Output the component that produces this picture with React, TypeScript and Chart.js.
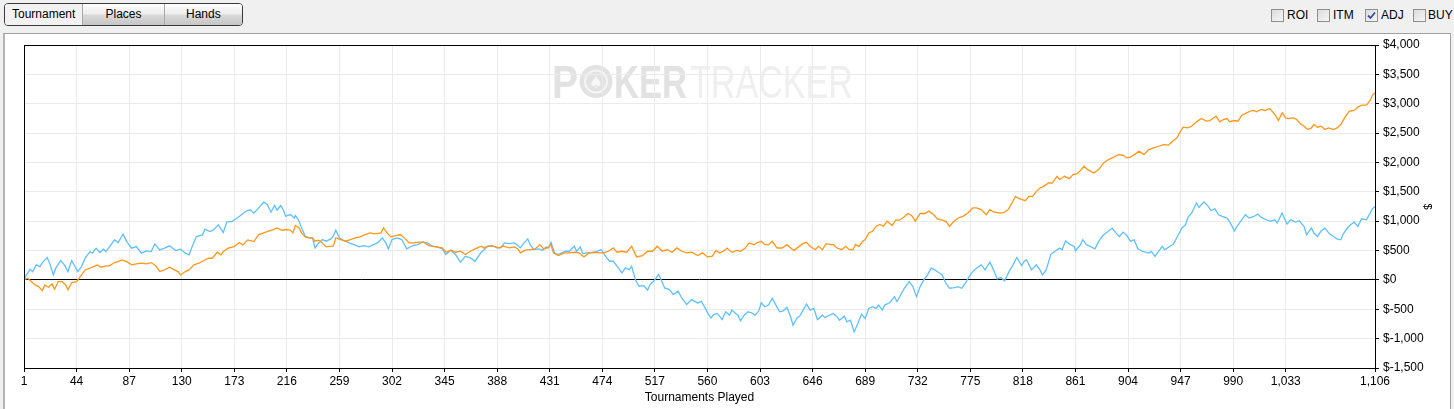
import React, { useRef, useEffect } from 'react';
import Chart from 'chart.js/auto';

// [tournament, dollars]
const adjustedWon: [number, number][] = [
  [1, 0], [4, 28], [7, -28], [10, -85], [13, -114], [16, -182], [18, -85], [21, -125], [24, -68], [26, -159],
  [29, -28], [32, -28], [35, -85], [37, -170], [40, -45], [44, -28], [46, 28], [51, 170], [55, 199], [58, 227],
  [61, 256], [64, 216], [68, 239], [71, 239], [75, 295], [78, 312], [81, 341], [85, 312], [89, 256], [93, 273],
  [97, 284], [101, 273], [105, 295], [109, 239], [112, 142], [116, 170], [120, 216], [124, 170], [127, 142], [129, 85],
  [133, 142], [136, 170], [140, 256], [144, 284], [148, 330], [152, 369], [155, 369], [159, 471], [162, 426], [164, 483],
  [168, 540], [173, 568], [177, 636], [180, 596], [184, 682], [189, 653], [193, 772], [197, 801], [201, 829], [205, 858],
  [208, 886], [212, 846], [216, 858], [219, 846], [221, 801], [223, 926], [226, 886], [228, 801], [231, 733], [234, 716],
  [237, 716], [239, 659], [242, 676], [245, 630], [248, 562], [252, 574], [254, 574], [256, 716], [260, 687], [264, 659],
  [268, 687], [272, 716], [276, 733], [280, 772], [284, 801], [288, 784], [293, 801], [295, 886], [298, 801], [301, 733],
  [305, 755], [309, 772], [312, 716], [316, 630], [320, 630], [324, 642], [328, 642], [332, 585], [338, 562], [343, 545],
  [346, 471], [350, 506], [354, 471], [358, 489], [362, 432], [366, 489], [370, 528], [375, 574], [377, 545], [381, 574],
  [385, 574], [389, 545], [393, 574], [398, 545], [402, 562], [405, 528], [407, 460], [411, 506], [415, 517], [419, 528],
  [423, 602], [426, 528], [429, 545], [432, 602], [434, 460], [438, 415], [443, 460], [447, 460], [451, 471], [455, 460],
  [459, 392], [463, 460], [467, 471], [471, 460], [475, 460], [479, 488], [483, 545], [486, 471], [490, 488], [494, 471],
  [498, 574], [502, 392], [507, 415], [511, 488], [515, 488], [519, 574], [523, 488], [527, 517], [531, 471], [535, 545],
  [539, 488], [543, 460], [547, 471], [552, 415], [556, 460], [560, 392], [564, 404], [567, 503], [570, 457], [574, 503],
  [576, 543], [580, 469], [584, 503], [587, 486], [591, 543], [594, 629], [598, 600], [600, 629], [604, 657], [607, 600],
  [610, 600], [613, 657], [617, 543], [621, 543], [625, 600], [629, 526], [631, 503], [635, 571], [638, 617], [641, 640],
  [644, 571], [648, 514], [651, 571], [654, 514], [657, 617], [661, 600], [663, 600], [666, 543], [670, 514], [673, 571],
  [676, 514], [679, 514], [681, 600], [684, 571], [687, 657], [689, 686], [692, 800], [695, 829], [698, 914], [701, 943],
  [704, 914], [707, 1000], [711, 926], [714, 1017], [717, 1017], [721, 1074], [724, 1131], [727, 1097], [730, 1000], [734, 1131],
  [738, 1131], [741, 1171], [745, 1114], [748, 1040], [752, 1017], [755, 997], [758, 912], [761, 986], [765, 1054], [769, 1083],
  [773, 1140], [777, 1225], [780, 1225], [784, 1197], [788, 1111], [791, 1197], [794, 1157], [798, 1140], [802, 1140], [806, 1197],
  [809, 1310], [812, 1423], [815, 1383], [820, 1349], [823, 1423], [826, 1423], [829, 1508], [832, 1565], [835, 1593], [839, 1650],
  [842, 1650], [846, 1764], [848, 1707], [852, 1764], [856, 1724], [859, 1793], [862, 1804], [865, 1861], [868, 1935], [871, 1878],
  [876, 1821], [880, 1878], [884, 1992], [888, 2049], [892, 2089], [896, 2134], [900, 2123], [903, 2077], [906, 2089], [910, 2146],
  [913, 2191], [917, 2134], [921, 2220], [925, 2248], [929, 2276], [933, 2305], [937, 2294], [940, 2351], [944, 2418], [947, 2532],
  [949, 2600], [953, 2589], [956, 2617], [960, 2691], [964, 2748], [968, 2703], [971, 2714], [974, 2760], [976, 2788], [979, 2691],
  [982, 2731], [985, 2748], [987, 2691], [991, 2714], [994, 2703], [997, 2805], [1001, 2845], [1004, 2873], [1007, 2885], [1009, 2862],
  [1013, 2902], [1016, 2885], [1020, 2919], [1023, 2845], [1025, 2788], [1027, 2714], [1030, 2845], [1033, 2760], [1035, 2748], [1039, 2760],
  [1042, 2731], [1045, 2657], [1048, 2617], [1051, 2560], [1054, 2589], [1056, 2646], [1059, 2600], [1062, 2617], [1065, 2560], [1068, 2589],
  [1072, 2560], [1075, 2589], [1078, 2646], [1082, 2788], [1085, 2873], [1089, 2885], [1092, 2942], [1095, 2976], [1099, 2976], [1102, 3055],
  [1104, 3147], [1106, 3186],
];

const netWon: [number, number][] = [
  [1, 0], [3, 85], [6, 180], [8, 140], [11, 255], [14, 227], [16, 295], [20, 380], [22, 284], [25, 85],
  [27, 200], [31, 330], [34, 255], [37, 142], [40, 330], [42, 255], [45, 142], [48, 227], [51, 370], [55, 483],
  [57, 455], [60, 540], [63, 466], [66, 523], [68, 483], [71, 568], [75, 682], [78, 636], [82, 778], [85, 653],
  [89, 540], [93, 568], [97, 455], [101, 494], [105, 483], [108, 613], [112, 511], [116, 540], [120, 580], [125, 500],
  [129, 523], [133, 455], [136, 426], [138, 540], [142, 738], [147, 767], [149, 863], [153, 824], [156, 852], [160, 937],
  [164, 807], [167, 994], [171, 994], [175, 1051], [179, 1108], [182, 1165], [186, 1193], [189, 1136], [193, 1227], [197, 1323],
  [200, 1284], [203, 1153], [206, 1267], [208, 1187], [211, 1267], [213, 1198], [215, 1085], [219, 1113], [222, 1056], [223, 1096],
  [226, 1000], [228, 886], [231, 744], [234, 716], [237, 716], [239, 545], [242, 630], [245, 687], [248, 659], [252, 699],
  [254, 744], [256, 846], [259, 716], [262, 676], [267, 630], [271, 602], [275, 562], [279, 585], [283, 562], [287, 602],
  [291, 642], [294, 716], [297, 630], [299, 528], [302, 687], [306, 716], [310, 687], [314, 528], [319, 585], [323, 602],
  [327, 642], [331, 630], [335, 574], [339, 562], [343, 528], [346, 432], [350, 506], [354, 432], [358, 301], [362, 403],
  [366, 375], [370, 318], [375, 471], [377, 506], [380, 574], [384, 585], [388, 545], [391, 545], [394, 630], [398, 619],
  [402, 630], [404, 602], [407, 545], [410, 630], [413, 699], [415, 602], [418, 517], [422, 528], [425, 506], [428, 562],
  [430, 545], [432, 642], [435, 460], [438, 432], [441, 460], [444, 488], [447, 488], [451, 574], [453, 488], [456, 562],
  [458, 449], [461, 460], [464, 460], [468, 471], [471, 500], [473, 517], [474, 488], [477, 392], [480, 318], [483, 318],
  [486, 233], [490, 119], [493, 204], [496, 176], [498, 233], [501, 6], [504, -108], [508, -97], [511, -176], [513, -80],
  [516, -23], [520, 91], [522, 6], [525, -136], [529, -165], [532, -250], [536, -193], [539, -307], [543, -420], [547, -335],
  [552, -392], [555, -364], [558, -477], [561, -591], [563, -648], [565, -591], [568, -571], [572, -674], [575, -543], [578, -600],
  [580, -514], [583, -571], [585, -600], [587, -697], [590, -600], [593, -543], [596, -560], [599, -600], [602, -526], [604, -389],
  [607, -457], [610, -429], [613, -314], [616, -429], [619, -543], [622, -526], [625, -469], [628, -627], [630, -771], [633, -657],
  [636, -600], [639, -486], [641, -411], [644, -514], [647, -486], [650, -674], [654, -600], [656, -640], [660, -600], [663, -571],
  [666, -627], [668, -686], [672, -617], [674, -714], [677, -686], [680, -886], [683, -743], [686, -583], [689, -657], [692, -486],
  [695, -457], [698, -486], [700, -429], [703, -514], [705, -429], [709, -389], [713, -286], [715, -371], [718, -257], [721, -143],
  [725, -29], [728, -114], [731, -286], [734, -114], [737, 0], [740, 86], [743, 200], [746, 171], [749, 126], [752, 85],
  [755, -57], [758, -142], [762, -131], [765, -114], [768, -142], [771, -57], [774, 57], [777, 142], [780, 199], [784, 256],
  [787, 171], [791, 302], [794, 171], [797, 17], [800, 40], [803, -17], [807, 154], [810, 256], [813, 381], [817, 245],
  [819, 313], [821, 342], [825, 171], [829, 256], [832, 171], [834, 85], [837, 171], [841, 439], [844, 484], [848, 541],
  [850, 513], [853, 667], [856, 610], [860, 570], [861, 496], [865, 598], [867, 684], [870, 598], [873, 570], [877, 530],
  [880, 655], [884, 769], [887, 814], [891, 883], [895, 780], [897, 740], [900, 814], [903, 758], [906, 655], [909, 684],
  [912, 530], [916, 484], [921, 456], [923, 484], [926, 399], [929, 484], [932, 570], [934, 513], [938, 570], [941, 609],
  [944, 723], [948, 882], [951, 939], [953, 1064], [956, 1138], [960, 1309], [962, 1235], [966, 1326], [969, 1269], [972, 1178],
  [975, 1212], [978, 1110], [981, 1081], [985, 1053], [987, 996], [991, 836], [994, 939], [997, 1024], [1000, 1110], [1003, 1053],
  [1007, 1081], [1010, 1121], [1013, 1064], [1017, 1024], [1020, 996], [1024, 1024], [1026, 967], [1030, 1138], [1034, 950], [1037, 1024],
  [1041, 984], [1044, 1007], [1048, 910], [1050, 768], [1054, 882], [1056, 797], [1059, 740], [1062, 836], [1065, 882], [1069, 780],
  [1072, 740], [1075, 700], [1078, 683], [1080, 780], [1083, 871], [1086, 939], [1089, 984], [1092, 910], [1095, 1041], [1099, 1024],
  [1102, 1138], [1104, 1212], [1106, 1252],
];

const xTickValues = [
  1, 44, 87, 130, 173, 216, 259, 302, 345, 388, 431, 474, 517, 560, 603, 646, 689,
  732, 775, 818, 861, 904, 947, 990, 1033, 1106,
];
const yMin = -1500;
const yMax = 4000;
const yStep = 500;

const viewTabs = ['Tournament', 'Places', 'Hands'];
const optionBoxes = [
  { label: 'ROI', checked: false, boxX: 1271, textX: 1287 },
  { label: 'ITM', checked: false, boxX: 1317, textX: 1333 },
  { label: 'ADJ', checked: true, boxX: 1365, textX: 1381 },
  { label: 'BUY', checked: false, boxX: 1413, textX: 1428 },
];

const FONT = '"Liberation Sans", Arial, sans-serif';
const tickFont = { family: FONT, size: 12 };

// squeeze a word into a given width
const fitText = (ctx: CanvasRenderingContext2D, text: string, x: number, y: number, w: number) => {
  const m = ctx.measureText(text).width;
  ctx.save();
  ctx.translate(x, y);
  ctx.scale(w / m, 1);
  ctx.fillText(text, 0, 0);
  ctx.restore();
};

const watermark = {
  id: 'watermark',
  beforeDraw(chart: Chart) {
    const ctx = chart.ctx;
    ctx.save();
    ctx.textBaseline = 'alphabetic';
    ctx.fillStyle = '#e2e2e2';
    ctx.font = `bold 46px ${FONT}`;
    fitText(ctx, 'P', 552, 65, 26);
    // the chip in place of the O
    ctx.beginPath();
    ctx.arc(596, 48.5, 16.5, 0, Math.PI * 2);
    ctx.fill();
    ctx.strokeStyle = '#f4f4f4';
    ctx.lineWidth = 2;
    ctx.beginPath();
    ctx.arc(596, 48.5, 11, 0, Math.PI * 2);
    ctx.stroke();
    ctx.fillStyle = '#f6f6f6';
    ctx.font = `16px "DejaVu Sans"`;
    ctx.textAlign = 'center';
    ctx.fillText('\u2660', 596, 55);
    ctx.textAlign = 'left';
    ctx.fillStyle = '#e2e2e2';
    ctx.font = `bold 46px ${FONT}`;
    fitText(ctx, 'KER', 614, 65, 73);
    ctx.fillStyle = '#efefef';
    ctx.font = `46px ${FONT}`;
    fitText(ctx, 'TRACKER', 690, 65, 163);
    ctx.restore();
  },
};

const plotFrame = {
  id: 'plotFrame',
  afterDraw(chart: Chart) {
    const { ctx, chartArea } = chart;
    const l = Math.round(chartArea.left) + 0.5;
    const t = Math.round(chartArea.top) + 0.5;
    const r = Math.round(chartArea.right) + 0.5;
    const b = Math.round(chartArea.bottom) + 0.5;
    ctx.save();
    ctx.strokeStyle = '#000';
    ctx.lineWidth = 1;
    ctx.strokeRect(l, t, r - l, b - t);
    ctx.restore();
  },
};

const GraphCanvas = () => {
  const chartRef = useRef<HTMLCanvasElement>(null);
  const chartInstance = useRef<Chart | null>(null);

  useEffect(() => {
    const ctx = chartRef.current?.getContext('2d');
    if (!ctx) return;
    if (chartInstance.current) chartInstance.current.destroy();

    chartInstance.current = new Chart(ctx, {
      type: 'line',
      data: {
        datasets: [
          {
            label: 'Adjusted',
            data: adjustedWon.map(([x, y]) => ({ x, y })),
            borderColor: '#ff9617',
            borderWidth: 1.3,
            pointRadius: 0,
            tension: 0,
            fill: false,
          },
          {
            label: 'Net Won',
            data: netWon.map(([x, y]) => ({ x, y })),
            borderColor: '#5fc0ff',
            borderWidth: 1.3,
            pointRadius: 0,
            tension: 0,
            fill: false,
          },
        ],
      },
      options: {
        animation: false,
        responsive: true,
        maintainAspectRatio: false,
        events: [],
        layout: { padding: { left: 24, top: 12, right: 0, bottom: 0 } },
        plugins: {
          legend: { display: false },
          tooltip: { enabled: false },
        },
        scales: {
          x: {
            type: 'linear',
            min: 1,
            max: 1106,
            afterBuildTicks: (scale: any) => {
              scale.ticks = xTickValues.map((value) => ({ value }));
            },
            afterFit: (scale: any) => {
              scale.height = 41;
            },
            ticks: {
              autoSkip: false,
              maxRotation: 0,
              color: '#000',
              font: tickFont,
              padding: 2,
              callback: (v: any) => Number(v).toLocaleString('en-US'),
            },
            grid: { color: '#ebebeb', tickColor: '#000', tickLength: 4 },
            border: { color: '#000' },
            title: {
              display: true,
              text: 'Tournaments Played',
              color: '#000',
              font: tickFont,
              padding: { top: 0, bottom: 4 },
            },
          },
          y: {
            position: 'right',
            min: yMin,
            max: yMax,
            afterFit: (scale: any) => {
              scale.width = 79;
            },
            ticks: {
              stepSize: yStep,
              color: '#000',
              font: tickFont,
              padding: 4,
              callback: (v: any) => '$' + Number(v).toLocaleString('en-US'),
            },
            grid: {
              color: (c: any) => (c.tick && c.tick.value === 0 ? '#000' : '#ebebeb'),
              tickColor: '#000',
              tickLength: 4,
            },
            border: { color: '#000' },
            title: {
              display: true,
              text: '$',
              color: '#000',
              font: { family: FONT, size: 11 },
              padding: { top: 20, bottom: 0 },
            },
          },
        },
      },
      plugins: [watermark, plotFrame],
    });

    return () => {
      if (chartInstance.current) {
        chartInstance.current.destroy();
        chartInstance.current = null;
      }
    };
  }, []);

  return <canvas ref={chartRef}></canvas>;
};

const CheckMark = () => (
  <svg width="11" height="11" viewBox="0 0 11 11" style={{ position: 'absolute', left: 0, top: 0 }}>
    <path d="M2 5.5 L4.5 8 L9 2.5" stroke="#3d4d9c" strokeWidth="1.8" fill="none" />
  </svg>
);

const App = () => {
  return (
    <div
      style={{
        position: 'fixed',
        left: 0,
        top: 0,
        width: 1454,
        height: 409,
        background: '#f0f0f0',
        overflow: 'hidden',
        fontFamily: FONT,
        fontSize: 12,
        color: '#000',
      }}
    >
      {/* view switcher */}
      <div
        style={{
          position: 'absolute',
          left: 4,
          top: 3,
          width: 237,
          height: 21,
          border: '1px solid #3a3a3a',
          borderRadius: 4,
          overflow: 'hidden',
          display: 'flex',
        }}
      >
        {viewTabs.map((tab, i) => (
          <div
            key={tab}
            style={{
              width: i === 1 ? 81 : 78,
              height: 21,
              lineHeight: '21px',
              textAlign: 'center',
              borderLeft: i > 0 ? '1px solid #a8a8a8' : 'none',
              background: i === 0 ? '#f2f2f2' : 'linear-gradient(#fdfdfd, #eeeeee 45%, #d8d8d8 55%, #c6c6c6)',
            }}
          >
            {tab}
          </div>
        ))}
      </div>

      {/* option check boxes */}
      {optionBoxes.map((o) => (
        <React.Fragment key={o.label}>
          <div
            style={{
              position: 'absolute',
              left: o.boxX,
              top: 9,
              width: 11,
              height: 11,
              border: '1px solid #8e8f8f',
              background: 'linear-gradient(135deg, #dcdcdc, #f6f6f6)',
            }}
          >
            {o.checked ? <CheckMark /> : null}
          </div>
          <div style={{ position: 'absolute', left: o.textX, top: 8, lineHeight: '14px' }}>{o.label}</div>
        </React.Fragment>
      ))}

      {/* chart panel */}
      <div
        style={{
          position: 'absolute',
          left: 3,
          top: 33,
          width: 1445,
          height: 400,
          background: '#fff',
          borderTop: '1px solid #a0a0a0',
          borderLeft: '2px solid #b4b4b4',
          borderRight: '1px solid #a0a0a0',
        }}
      />
      <div style={{ position: 'absolute', left: 0, top: 33, width: 1454, height: 376 }}>
        <GraphCanvas />
      </div>
    </div>
  );
};

export default App;
